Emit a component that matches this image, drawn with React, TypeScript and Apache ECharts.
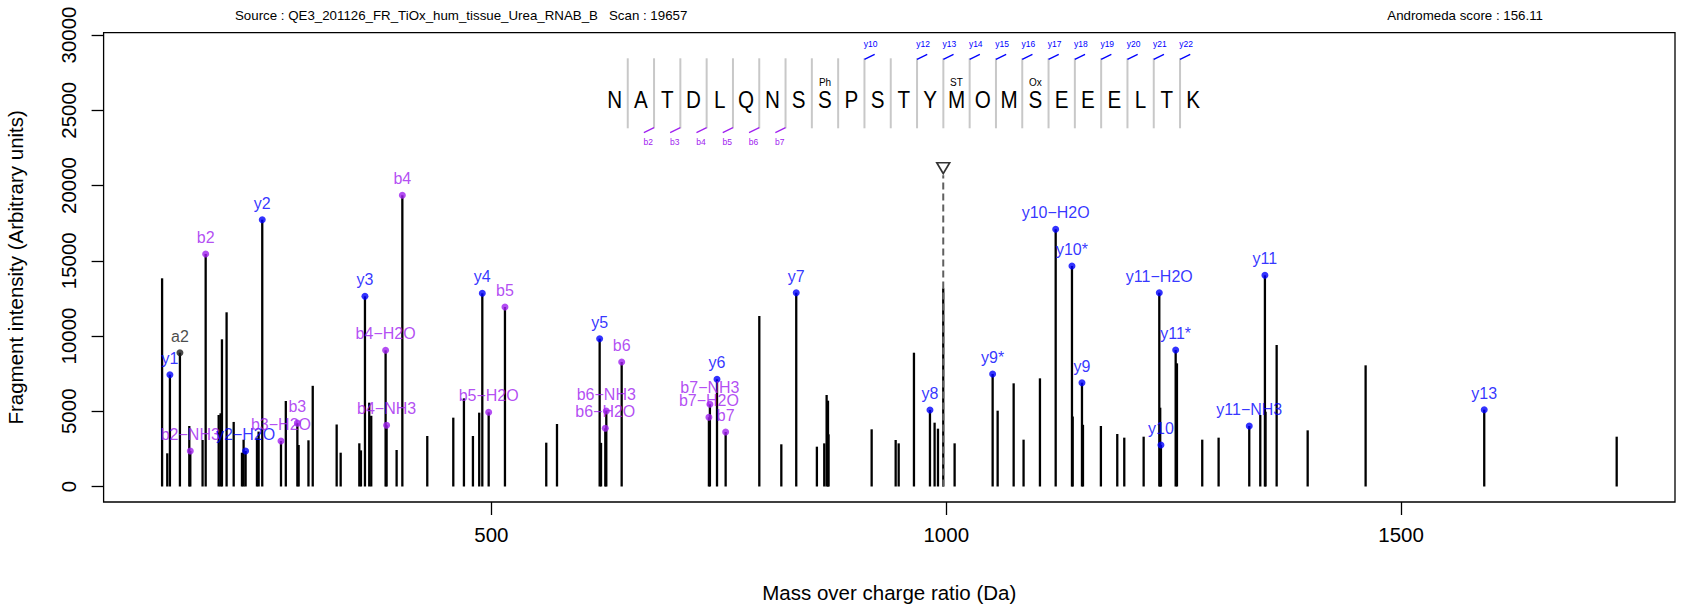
import React, { useEffect, useRef } from "react";
import * as echarts from "echarts";

// ---------- DATA ----------
const peakMz = [
  138.0, 143.7, 146.6, 157.6, 167.9, 169.0, 182.5, 185.9, 200.2, 202.3, 203.8, 208.9, 216.7,
  225.8, 227.6, 229.8, 242.3, 244.1, 248.1, 268.7, 274.0, 286.7, 288.1, 298.9, 303.6, 329.9,
  334.3, 354.8, 356.6, 361.0, 365.7, 367.9, 383.7, 384.8, 395.8, 402.1, 429.5, 458.1, 469.8,
  479.7, 486.6, 490.0, 497.0, 514.9, 560.3, 572.1, 619.0, 620.5, 625.2, 626.3, 643.2, 739.1,
  740.2, 748.0, 757.5, 794.5, 818.7, 835.1, 857.8, 865.9, 868.5, 870.0, 870.6, 918.0, 944.4,
  947.7, 964.5, 982.1, 987.2, 990.9, 996.7, 1009.2, 1051.0, 1056.5, 1074.1, 1085.0, 1103.0,
  1120.3, 1138.2, 1139.0, 1149.2, 1150.3, 1170.0, 1188.0, 1195.7, 1217.0, 1234.2, 1235.2,
  1236.0, 1252.2, 1253.6, 1281.4, 1299.4, 1333.1, 1345.2, 1350.3, 1351.0, 1363.2, 1397.3,
  1461.0, 1591.4, 1737.0,
];
const peakIntensity = [
  13834, 2206, 7429, 8890, 4020, 2359, 3090, 15449, 4751, 4864, 9781, 11575, 4290,
  2246, 3110, 2359, 3200, 3650, 17728, 3023, 5681, 4210, 2757, 3070, 6690, 4120,
  2246, 2870, 2400, 12635, 5570, 4700, 9050, 4066, 2425, 19349, 3355, 4574, 5858,
  3355, 4906, 12835, 4928, 11927, 2912, 4153, 9822, 2900, 3865, 5017, 8272, 4596,
  5460, 7123, 3621, 11329, 2804, 12877, 2646, 2867, 6080, 5703, 3466, 3800, 3090,
  2867, 8890, 5083, 4241, 3842, 13168, 2868, 7475, 5038, 6855, 3112, 7187,
  17088, 14651, 4650, 6899, 4100, 4020, 3488, 3245, 3310, 12877, 5236,
  2757, 9070, 8184, 3112, 3245, 4020, 4751, 14031, 4970, 9402, 3732,
  8051, 5103, 3310,
];

const ionLabels = [
  "y1", "a2", "b2−NH3", "b2", "y2−H2O", "y2", "b3−H2O", "b3", "y3", "b4−H2O", "b4−NH3", "b4",
  "y4", "b5−H2O", "b5", "y5", "b6−H2O", "b6−NH3", "b6", "b7−H2O", "b7−NH3", "y6", "b7", "y7",
  "y8", "y9*", "y10−H2O", "y10*", "y9", "y11−H2O", "y10", "y11*", "y11−NH3", "y11", "y13",
];
const ionMz = [
  146.6, 157.6, 169.0, 185.9, 229.8, 248.1, 268.7, 286.7, 361.0, 383.7, 384.8, 402.1,
  490.0, 497.0, 514.9, 619.0, 625.2, 626.3, 643.2, 739.1, 740.2, 748.0, 757.5, 835.1,
  982.1, 1051.0, 1120.3, 1138.2, 1149.2, 1234.2, 1236.0, 1252.2, 1333.1, 1350.3, 1591.4,
];
const ionIntensity = [
  7429, 8890, 2359, 15449, 2359, 17728, 3023, 4210, 12635, 9050, 4066, 19349,
  12835, 4928, 11927, 9822, 3865, 5017, 8272, 4596, 5460, 7123, 3621, 12877,
  5083, 7475, 17088, 14651, 6899, 12877, 2757, 9070, 4020, 14031, 5103,
];
const ionType = [
  "y", "a", "b", "b", "y", "y", "b", "b", "y", "b", "b", "b",
  "y", "b", "b", "y", "b", "b", "b", "b", "b", "y", "b", "y",
  "y", "y", "y", "y", "y", "y", "y", "y", "y", "y", "y",
];

const precursorMz = [996.7];
const precursorMarker = [21150];

const xTickValues = [500, 1000, 1500];
const yTickValues = [0, 5000, 10000, 15000, 20000, 25000, 30000];

const sequence = ["N", "A", "T", "D", "L", "Q", "N", "S", "S", "P", "S", "T", "Y", "M", "O", "M", "S", "E", "E", "E", "L", "T", "K"];
const bBreaks = [2, 3, 4, 5, 6, 7];
const yBreaks = [10, 12, 13, 14, 15, 16, 17, 18, 19, 20, 21, 22];
const modSites = [9, 14, 17];
const modLabels = ["Ph", "ST", "Ox"];

const sourceText = "Source : QE3_201126_FR_TiOx_hum_tissue_Urea_RNAB_B   Scan : 19657";
const scoreText = "Andromeda score : 156.11";
const xTitle = "Mass over charge ratio (Da)";
const yTitle = "Fragment intensity (Arbitrary units)";

// ---------- STYLE / LAYOUT ----------
const FONT = "'Liberation Sans', Arial, Helvetica, sans-serif";
const BLUE = "#0000FF";
const PURPLE = "#A020F0";
const ionColor: Record<string, string> = { y: BLUE, b: PURPLE, a: "#1a1a1a" };

const W = 1685;
const H = 609;
const boxLeft = 103.6;
const boxRight = 1675;
const boxTop = 32.7;
const boxBottom = 502;
const xMin = 73.7;
const xMax = 1801.1;
const yMin = -1030;
const yMax = 30153;

const seqX0 = 614.6;
const seqStep = 26.3;
const sepX = (k: number) => seqX0 + (k - 0.5) * seqStep;

function buildGraphic() {
  const g: any[] = [];
  g.push({
    type: "rect",
    shape: { x: boxLeft, y: boxTop, width: boxRight - boxLeft, height: boxBottom - boxTop },
    style: { fill: "none", stroke: "#000", lineWidth: 1.3 },
    silent: true,
    z: 10,
  });
  for (let k = 1; k < sequence.length; k++) {
    g.push({
      type: "line",
      shape: { x1: sepX(k), y1: 58.3, x2: sepX(k), y2: 128.3 },
      style: { stroke: "#C8C8C8", lineWidth: 2 },
      silent: true,
    });
  }
  sequence.forEach((ch, i) => {
    g.push({
      type: "text",
      x: seqX0 + i * seqStep,
      y: 99.5,
      scaleX: 0.86,
      style: { text: ch, fontSize: 24, fontFamily: FONT, fill: "#000", align: "center", verticalAlign: "middle" },
      silent: true,
    });
  });
  bBreaks.forEach((k) => {
    const x = sepX(k);
    g.push({
      type: "line",
      shape: { x1: x, y1: 127.7, x2: x - 10.2, y2: 132.7 },
      style: { stroke: PURPLE, lineWidth: 1.3 },
      silent: true,
    });
    g.push({
      type: "text",
      x: x - 5.7,
      y: 142,
      style: { text: "b" + k, fontSize: 8.5, fontFamily: FONT, fill: PURPLE, align: "center", verticalAlign: "middle" },
      silent: true,
    });
  });
  yBreaks.forEach((k) => {
    const x = sepX(k);
    g.push({
      type: "line",
      shape: { x1: x, y1: 59.3, x2: x + 10.2, y2: 54.3 },
      style: { stroke: BLUE, lineWidth: 1.3 },
      silent: true,
    });
    g.push({
      type: "text",
      x: x + 6.1,
      y: 44,
      style: { text: "y" + k, fontSize: 8.5, fontFamily: FONT, fill: BLUE, align: "center", verticalAlign: "middle" },
      silent: true,
    });
  });
  modSites.forEach((s, i) => {
    g.push({
      type: "text",
      x: seqX0 + (s - 1) * seqStep,
      y: 82.7,
      style: { text: modLabels[i], fontSize: 10, fontFamily: FONT, fill: "#000", align: "center", verticalAlign: "middle" },
      silent: true,
    });
  });
  g.push({
    type: "text",
    x: 235,
    y: 15,
    style: { text: sourceText, fontSize: 13.3, fontFamily: FONT, fill: "#000", align: "left", verticalAlign: "middle" },
    silent: true,
  });
  g.push({
    type: "text",
    x: 1543,
    y: 15,
    style: { text: scoreText, fontSize: 13.3, fontFamily: FONT, fill: "#000", align: "right", verticalAlign: "middle" },
    silent: true,
  });
  g.push({
    type: "text",
    x: (boxLeft + boxRight) / 2,
    y: 592,
    style: { text: xTitle, fontSize: 20.5, fontFamily: FONT, fill: "#000", align: "center", verticalAlign: "middle" },
    silent: true,
  });
  g.push({
    type: "text",
    x: 15,
    y: (boxTop + boxBottom) / 2,
    rotation: Math.PI / 2,
    style: { text: yTitle, fontSize: 20.5, fontFamily: FONT, fill: "#000", align: "center", verticalAlign: "middle" },
    silent: true,
  });
  return g;
}

export default function App() {
  const ref = useRef<HTMLDivElement>(null);

  useEffect(() => {
    if (!ref.current) return;
    const chart = echarts.init(ref.current, undefined, { renderer: "svg" });

    const stems = peakMz.map((m, i) => [m, peakIntensity[i]]);
    const ions = ionMz.map((m, i) => ({
      value: [m, ionIntensity[i]],
      name: ionLabels[i],
      itemStyle: { color: ionColor[ionType[i]] },
      label: { color: ionColor[ionType[i]] },
    }));

    const option: any = {
      animation: false,
      backgroundColor: "#ffffff",
      textStyle: { fontFamily: FONT },
      grid: {
        left: boxLeft,
        top: boxTop,
        width: boxRight - boxLeft,
        height: boxBottom - boxTop,
        containLabel: false,
      },
      xAxis: {
        type: "value",
        min: xMin,
        max: xMax,
        axisLine: { show: false, onZero: false },
        splitLine: { show: false },
        axisTick: { show: true, customValues: xTickValues, length: 13, lineStyle: { color: "#000", width: 1.3 } },
        axisLabel: {
          customValues: xTickValues,
          fontSize: 20.5,
          color: "#000",
          margin: 21.5,
          fontFamily: FONT,
          formatter: (v: number) => String(v),
        },
      },
      yAxis: {
        type: "value",
        min: yMin,
        max: yMax,
        axisLine: { show: false, onZero: false },
        splitLine: { show: false },
        axisTick: { show: true, customValues: yTickValues, length: 12, lineStyle: { color: "#000", width: 1.3 } },
        axisLabel: {
          customValues: yTickValues,
          rotate: 90,
          fontSize: 20.5,
          color: "#000",
          margin: 25,
          fontFamily: FONT,
          formatter: (v: number) => String(v),
        },
      },
      graphic: buildGraphic(),
      series: [
        {
          type: "custom",
          name: "peaks",
          data: stems,
          encode: { x: 0, y: 1 },
          renderItem: (params: any, api: any) => {
            const p0 = api.coord([api.value(0), 0]);
            const p1 = api.coord([api.value(0), api.value(1)]);
            return {
              type: "line",
              shape: { x1: p0[0], y1: p0[1], x2: p1[0], y2: p1[1] },
              style: { stroke: "#000", lineWidth: 2.3 },
            };
          },
          z: 2,
        },
        {
          type: "custom",
          name: "precursor",
          data: precursorMz.map((m, i) => [m, precursorMarker[i]]),
          encode: { x: 0, y: 1 },
          renderItem: (params: any, api: any) => {
            const p0 = api.coord([api.value(0), 0]);
            const p1 = api.coord([api.value(0), api.value(1)]);
            return {
              type: "line",
              shape: { x1: p0[0], y1: p0[1], x2: p1[0], y2: p1[1] + 7 },
              style: { stroke: "#606060", lineWidth: 2, lineDash: [7, 4] },
            };
          },
          z: 3,
        },
        {
          type: "scatter",
          name: "precursorMarker",
          data: precursorMz.map((m, i) => [m, precursorMarker[i]]),
          symbol: "triangle",
          symbolRotate: 180,
          symbolSize: [13, 11],
          itemStyle: { color: "#ffffff", borderColor: "#000", borderWidth: 1.6 },
          z: 4,
        },
        {
          type: "scatter",
          name: "ions",
          data: ions,
          symbol: "circle",
          symbolSize: 7,
          label: {
            show: true,
            position: "top",
            distance: 5,
            formatter: "{b}",
            fontSize: 16,
            fontFamily: FONT,
          },
          labelLayout: { hideOverlap: false },
          z: 5,
        },
      ],
    };

    chart.setOption(option);
    return () => chart.dispose();
  }, []);

  return (
    <div
      ref={ref}
      style={{ position: "fixed", left: 0, top: 0, width: W, height: H, background: "#fff" }}
    />
  );
}
